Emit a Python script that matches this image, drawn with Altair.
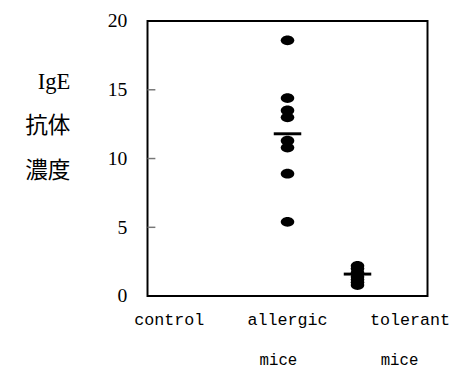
import altair as alt
import pandas as pd

# ---- data ----
groups = ["allergic", "tolerant"]
group_pos = [2, 3]
allergic_vals = [18.6, 14.4, 13.5, 13.0, 11.3, 10.8, 8.9, 5.4]
tolerant_vals = [2.2, 2.0, 1.7, 1.4, 1.2, 1.0, 0.8]
group_means = [11.8, 1.6]

cat_labels = ["control", "allergic", "tolerant"]
cat_label_pos = [0.31, 2.0, 3.75]
sub_labels = ["mice", "mice"]
sub_label_pos = [1.87, 3.6]

y_ticks = [5, 10, 15]
y_title = ["IgE", "抗体", "濃度"]

pts = pd.DataFrame(
    {"x": [group_pos[0]] * len(allergic_vals) + [group_pos[1]] * len(tolerant_vals),
     "v": allergic_vals + tolerant_vals}
)
means = pd.DataFrame({"x": group_pos, "v": group_means})
labs = pd.DataFrame({"x": cat_label_pos, "t": cat_labels})
subs = pd.DataFrame({"x": sub_label_pos, "t": sub_labels})
ticks = pd.DataFrame({"v": y_ticks})

xs = alt.Scale(domain=[0, 4])
ys = alt.Scale(domain=[0, 20])

serif = "Liberation Serif"
mono = "Liberation Mono"

ellipse = "M -1 0 A 1 0.72 0 1 0 1 0 A 1 0.72 0 1 0 -1 0 Z"

points = alt.Chart(pts).mark_point(
    shape=ellipse, filled=True, color="black", opacity=1, size=190
).encode(
    x=alt.X("x:Q", scale=xs, axis=None),
    y=alt.Y(
        "v:Q",
        scale=ys,
        axis=alt.Axis(
            values=[0, 5, 10, 15, 20],
            ticks=False,
            domain=False,
            grid=False,
            labelFont=serif,
            labelFontSize=20,
            labelColor="black",
            labelPadding=21,
            title=y_title,
            titleFont=serif + ", Noto Sans CJK JP",
            titleFontSize=23,
            titleFontWeight="normal",
            titleColor="black",
            titleAngle=0,
            titleAlign="right",
            titleBaseline="top",
            titleLineHeight=45,
            titleX=-79,
            titleY=51,
        ),
    ),
)

mean_ticks = alt.Chart(means).mark_tick(
    orient="horizontal", color="black", size=28, thickness=3, opacity=1
).encode(x=alt.X("x:Q", scale=xs), y=alt.Y("v:Q", scale=ys))

inner_ticks = alt.Chart(ticks).mark_rule(color="#777777", strokeWidth=1.5).encode(
    y=alt.Y("v:Q", scale=ys), x=alt.value(0), x2=alt.value(8)
)

label_text = alt.Chart(labs).mark_text(
    font=mono, fontSize=17, color="black", align="center", baseline="middle"
).encode(x=alt.X("x:Q", scale=xs), y=alt.value(304), text="t:N")

sub_text = alt.Chart(subs).mark_text(
    font=mono, fontSize=16, color="black", align="center", baseline="middle"
).encode(x=alt.X("x:Q", scale=xs), y=alt.value(345), text="t:N")

chart = (
    alt.layer(inner_ticks, points, mean_ticks, label_text, sub_text)
    .properties(
        width=285,
        height=280,
        autosize=alt.AutoSizeParams(type="none"),
        padding={"left": 142, "top": 10, "right": 29, "bottom": 72},
    )
    .configure_view(stroke="black", strokeWidth=2)
)

chart.save("out.html", embed_options={"renderer": "svg", "actions": False})
